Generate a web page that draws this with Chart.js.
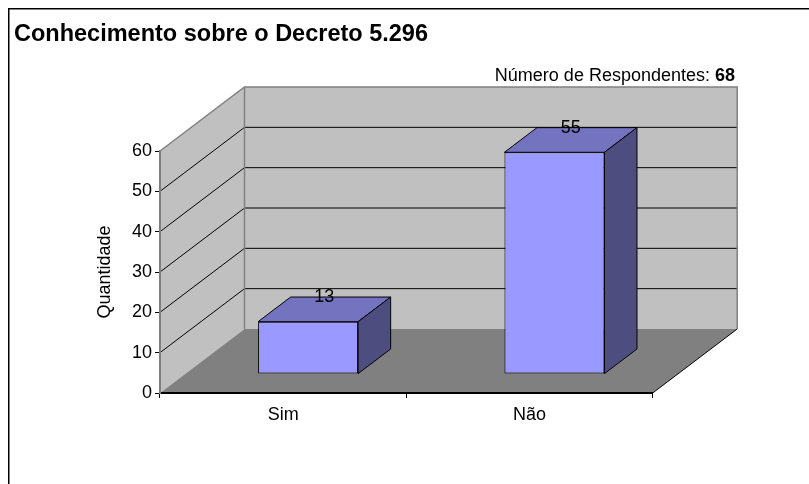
<!DOCTYPE html>
<html><head><meta charset="utf-8">
<script src="https://cdn.jsdelivr.net/npm/chart.js@4.4.0/dist/chart.umd.min.js"></script>
<style>html,body{margin:0;padding:0;background:#fff;}canvas{display:block;}</style>
</head><body>
<canvas id="c" width="809" height="484"></canvas>
<script>
const categories = ['Sim', 'Não'];
const quantidade = [13, 55];
const yTickValues = [0, 10, 20, 30, 40, 50, 60];
const chartTitle = 'Conhecimento sobre o Decreto 5.296';
const respondentsLabel = 'Número de Respondentes: ';
const respondentsCount = '68';
const yAxisTitle = 'Quantidade';

const FONT = '"Liberation Sans", Arial, sans-serif';
const DX = 84.5, DY = 64;     // 3D depth of the plot box
const F1 = 0.295, F2 = 0.68;  // front/back depth fractions of the bars

function poly(ctx, pts) {
  ctx.beginPath();
  pts.forEach((p, i) => i ? ctx.lineTo(p[0], p[1]) : ctx.moveTo(p[0], p[1]));
  ctx.closePath(); ctx.fill(); ctx.stroke();
}

const walls3d = {
  id: 'walls3d',
  beforeDraw(chart) {
    const {ctx, chartArea: a, scales: {y}} = chart;
    const L = a.left, R = a.right;
    const T = y.getPixelForValue(y.max), B = y.getPixelForValue(y.min);
    ctx.save();
    // frame
    ctx.strokeStyle = '#000'; ctx.lineWidth = 1.5;
    ctx.beginPath(); ctx.moveTo(8.75, 484); ctx.lineTo(8.75, 8.75); ctx.lineTo(809, 8.75); ctx.stroke();
    // back wall + left wall
    ctx.fillStyle = '#C0C0C0';
    ctx.fillRect(L + DX, T - DY, R - L, B - T);
    ctx.beginPath(); ctx.moveTo(L, T); ctx.lineTo(L + DX, T - DY); ctx.lineTo(L + DX, B - DY); ctx.lineTo(L, B); ctx.closePath(); ctx.fill();
    // floor
    ctx.fillStyle = '#808080';
    ctx.beginPath(); ctx.moveTo(L, B); ctx.lineTo(L + DX, B - DY); ctx.lineTo(R + DX, B - DY); ctx.lineTo(R, B); ctx.closePath(); ctx.fill();
    // gridlines on walls
    ctx.strokeStyle = '#000'; ctx.lineWidth = 1;
    yTickValues.forEach(v => {
      if (v === y.min || v === y.max) return;
      const p = y.getPixelForValue(v);
      ctx.beginPath(); ctx.moveTo(L, p); ctx.lineTo(L + DX, p - DY); ctx.lineTo(R + DX, p - DY); ctx.stroke();
    });
    // wall edges
    ctx.strokeStyle = '#808080'; ctx.lineWidth = 1.5;
    ctx.beginPath();
    ctx.moveTo(L, T); ctx.lineTo(L + DX, T - DY); ctx.lineTo(R + DX, T - DY); ctx.lineTo(R + DX, B - DY);
    ctx.moveTo(L + DX, T - DY); ctx.lineTo(L + DX, B - DY);
    ctx.stroke();
    ctx.strokeStyle = '#000'; ctx.lineWidth = 1;
    ctx.beginPath(); ctx.moveTo(R, B); ctx.lineTo(R + DX, B - DY); ctx.stroke();
    ctx.restore();
  },
  beforeDatasetsDraw(chart) {
    chart.ctx.save();
    chart.ctx.translate(DX * F1, -DY * F1);
  },
  afterDatasetsDraw(chart) {
    const ctx = chart.ctx;
    ctx.restore();
    const ddx = DX * (F2 - F1), ddy = DY * (F2 - F1);
    const ox = DX * F1, oy = DY * F1;
    const meta = chart.getDatasetMeta(0);
    const values = chart.data.datasets[0].data;
    ctx.save();
    ctx.lineWidth = 1; ctx.strokeStyle = '#000'; ctx.lineJoin = 'miter';
    meta.data.forEach((bar, i) => {
      const {x, y, base, width} = bar.getProps(['x', 'y', 'base', 'width'], true);
      const l = x - width / 2 + ox, r = x + width / 2 + ox, t = y - oy, b = base - oy;
      ctx.fillStyle = '#7373BF';
      poly(ctx, [[l, t], [l + ddx, t - ddy], [r + ddx, t - ddy], [r, t]]);
      ctx.fillStyle = '#4D4D80';
      poly(ctx, [[r, t], [r + ddx, t - ddy], [r + ddx, b - ddy], [r, b]]);
      ctx.fillStyle = '#000'; ctx.font = '18px ' + FONT;
      ctx.textAlign = 'center'; ctx.textBaseline = 'middle';
      ctx.fillText(String(values[i]), (l + r) / 2 + ddx / 2, t - ddy);
    });
    ctx.restore();
  },
  afterDraw(chart) {
    const ctx = chart.ctx;
    ctx.save();
    ctx.fillStyle = '#000'; ctx.textBaseline = 'middle'; ctx.textAlign = 'right';
    const xr = 735, yc = 76;
    ctx.font = 'bold 18px ' + FONT;
    const w = ctx.measureText(respondentsCount).width;
    ctx.fillText(respondentsCount, xr, yc);
    ctx.font = '18px ' + FONT;
    ctx.fillText(respondentsLabel, xr - w, yc);
    ctx.restore();
  }
};

new Chart(document.getElementById('c'), {
  type: 'bar',
  data: {
    labels: categories,
    datasets: [{
      data: quantidade,
      backgroundColor: '#9999FF',
      borderColor: '#000',
      borderWidth: 1,
      borderSkipped: false,
      barPercentage: 0.406,
      categoryPercentage: 1
    }]
  },
  options: {
    responsive: false,
    devicePixelRatio: 1,
    animation: false,
    layout: { padding: { left: 14, right: 156.3, top: 10, bottom: 0 } },
    plugins: {
      legend: { display: false },
      tooltip: { enabled: false },
      title: {
        display: true, text: chartTitle, align: 'start', color: '#000',
        font: { family: FONT, size: 23.5, weight: 'bold' },
        padding: { top: 10.6, bottom: 102.2 }
      }
    },
    scales: {
      x: {
        ticks: { color: '#000', font: { family: FONT, size: 18 }, padding: 6 },
        grid: { drawOnChartArea: false, tickLength: 5, color: '#000', offset: true },
        border: { color: '#000', width: 2 },
        afterFit: s => { s.height = 91; }
      },
      y: {
        min: 0, max: 60,
        afterBuildTicks: s => { s.ticks = yTickValues.map(v => ({ value: v })); },
        ticks: { color: '#000', font: { family: FONT, size: 18 }, padding: 3 },
        grid: { drawOnChartArea: false, tickLength: 5, color: '#000' },
        border: { color: '#808080', width: 2 },
        title: { display: true, text: yAxisTitle, color: '#000', font: { family: FONT, size: 18 }, padding: { top: 80.7, bottom: 0 } },
        afterFit: s => { s.width = 146; }
      }
    }
  },
  plugins: [walls3d]
});
</script>
</body></html>
